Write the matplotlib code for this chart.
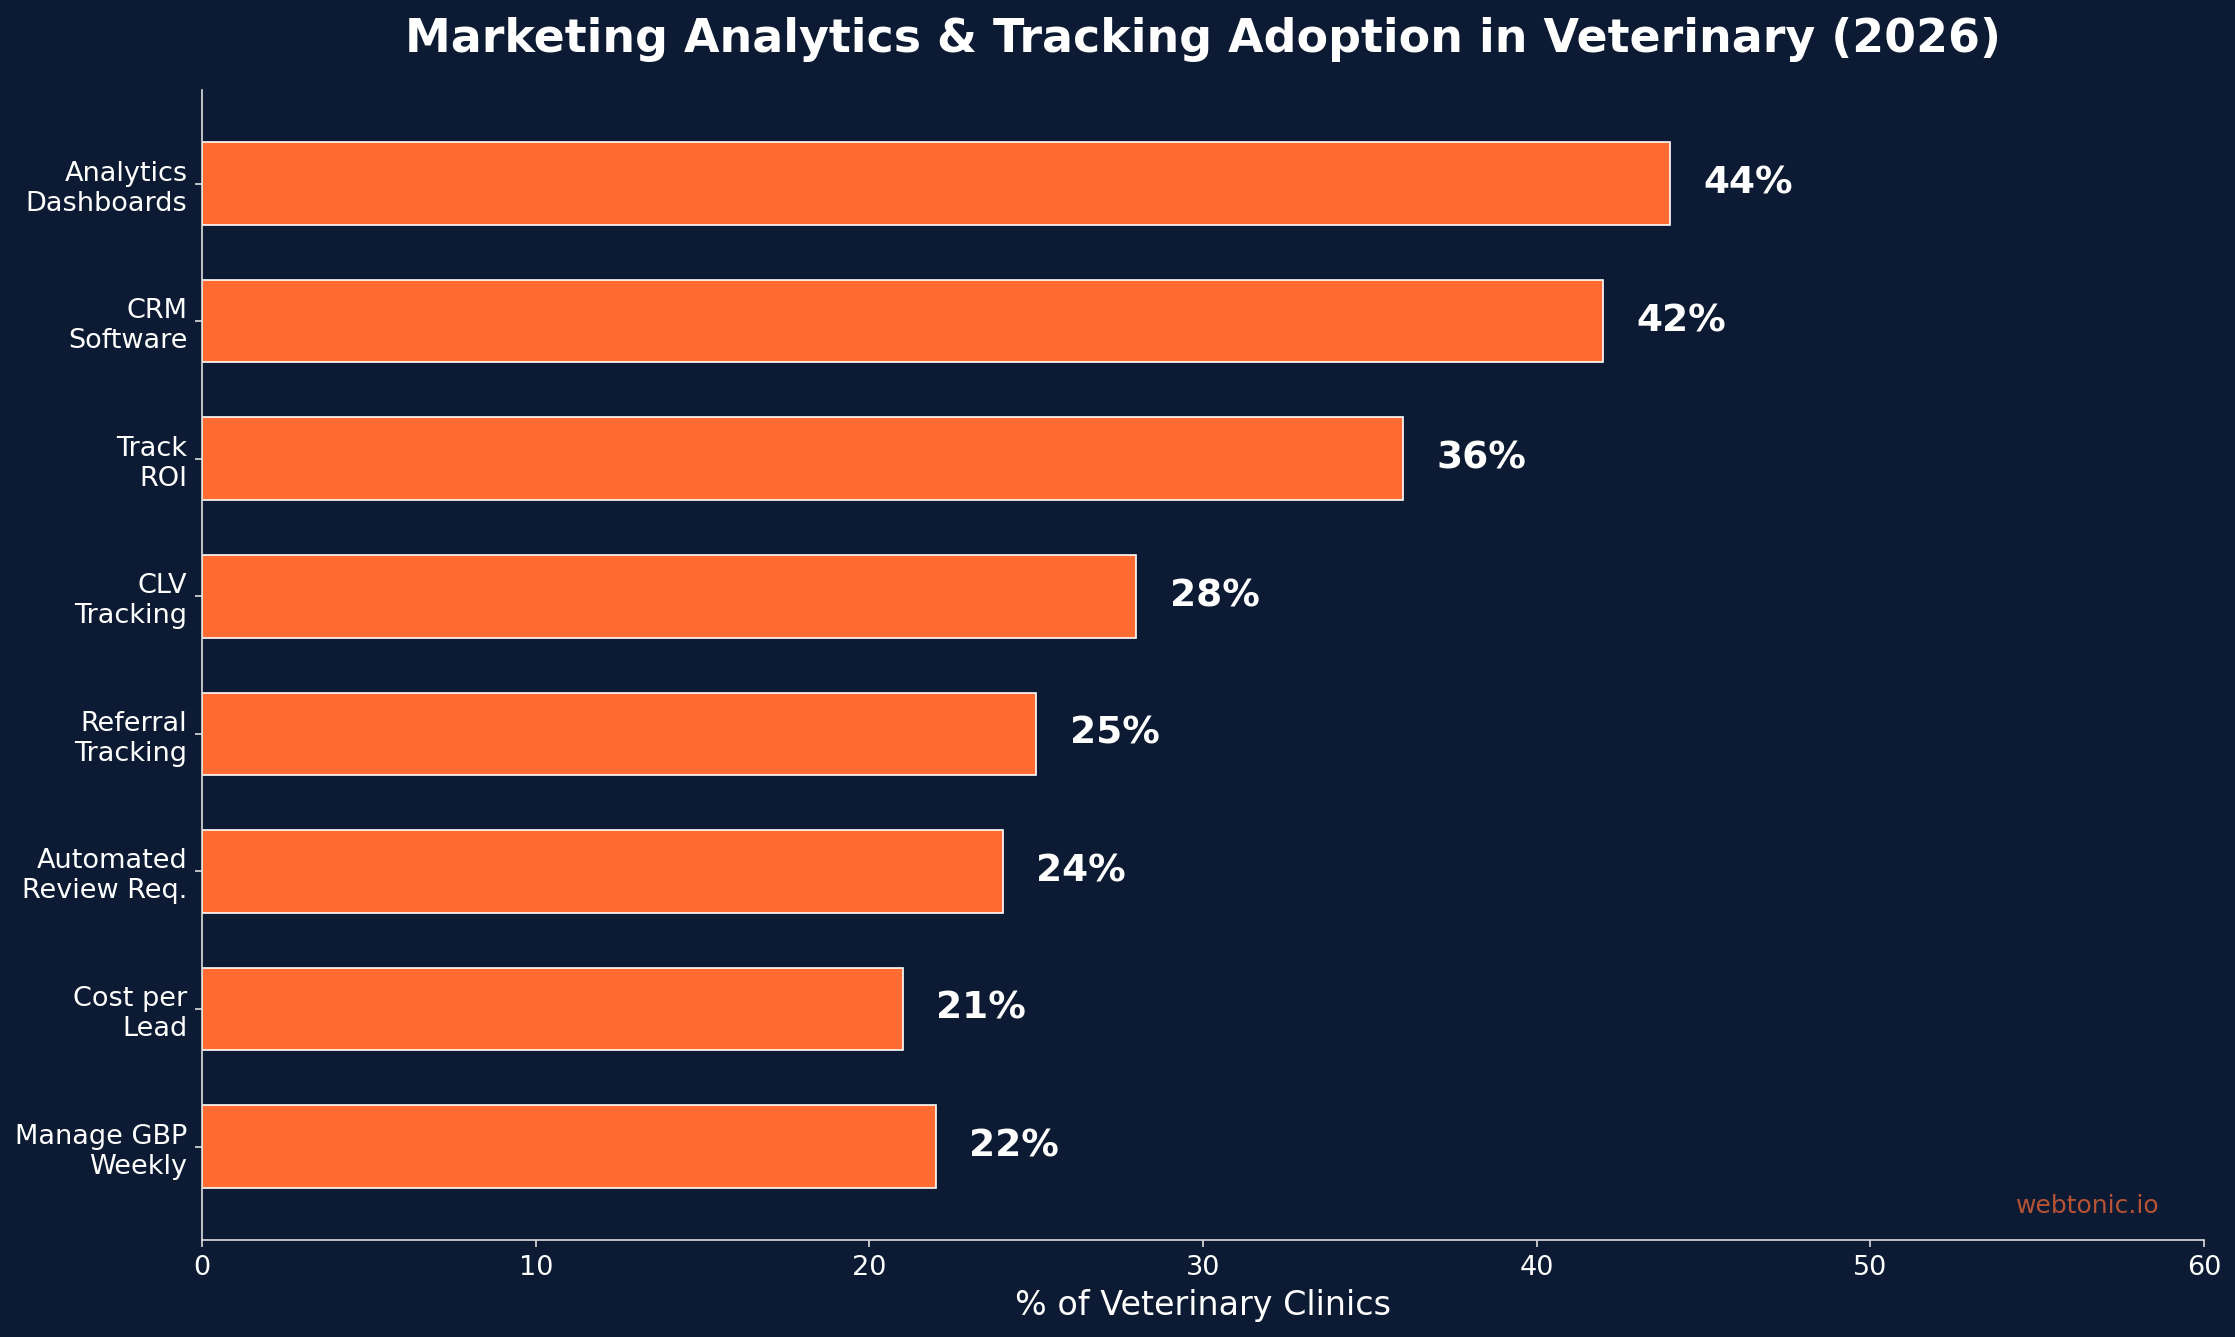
import matplotlib
matplotlib.use("Agg")
import matplotlib.pyplot as plt
import numpy as np

# adoption figures, top to bottom as shown
categories = ["Analytics\nDashboards", "CRM\nSoftware", "Track\nROI", "CLV\nTracking",
              "Referral\nTracking", "Automated\nReview Req.", "Cost per\nLead", "Manage GBP\nWeekly"]
values = [44, 42, 36, 28, 25, 24, 21, 22]
xticks = [0, 10, 20, 30, 40, 50, 60]

bg = "#0C1B33"
bar_color = "#FF6B30"
fg = "white"
spine_color = "#DDDDDD"

fig = plt.figure(figsize=(2235 / 150, 1337 / 150), dpi=150, facecolor=bg)
ax = fig.add_axes([0.0904, 0.0725, 0.8957, 0.8602])
ax.set_facecolor(bg)

y = np.arange(len(categories))
ax.barh(y, values, height=0.6, color=bar_color, edgecolor="white", linewidth=0.8)
ax.set_yticks(y)
ax.set_yticklabels(categories, fontsize=13, color=fg)
ax.invert_yaxis()

for yi, v in zip(y, values):
    ax.text(v + 1, yi, f"{v}%", va="center", ha="left", fontsize=18,
            fontweight="bold", color=fg)

ax.set_xlim(0, 60)
ax.set_xticks(xticks)
ax.tick_params(axis="x", labelsize=13, colors=fg)
ax.tick_params(axis="both", color=spine_color)
ax.set_xlabel("% of Veterinary Clinics", fontsize=16, color=fg)

for s in ["top", "right"]:
    ax.spines[s].set_visible(False)
for s in ["left", "bottom"]:
    ax.spines[s].set_color(spine_color)

ax.set_title("Marketing Analytics & Tracking Adoption in Veterinary (2026)",
             fontsize=22, fontweight="bold", color=fg, pad=18)

ax.text(0.978, 0.03, "webtonic.io", transform=ax.transAxes, ha="right", va="center",
        fontsize=12, color="#FF6B35", alpha=0.7)

fig.savefig("out.png", dpi=150, facecolor=bg)
